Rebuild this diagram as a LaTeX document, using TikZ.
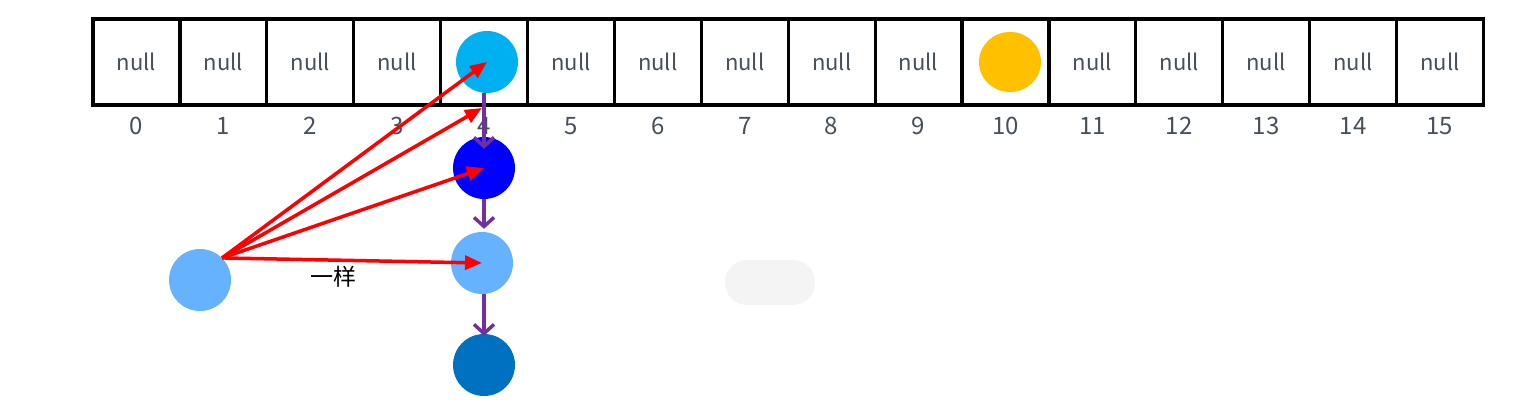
\documentclass[tikz,border=0pt]{standalone}
\usepackage{fontspec}
\setmainfont{Noto Sans CJK SC}
\usepackage{tikz}
\usetikzlibrary{arrows.meta, positioning, shapes.geometric}
\definecolor{bucketcyan}{RGB}{0,176,240}
\definecolor{bucketorange}{RGB}{255,192,0}
\definecolor{nodeblue}{RGB}{0,0,255}
\definecolor{nodelight}{RGB}{102,178,255}
\definecolor{nodedark}{RGB}{0,112,192}
\definecolor{linkpurple}{RGB}{112,48,160}
\definecolor{pillgray}{RGB}{244,244,244}
\definecolor{labelgray}{RGB}{70,80,90}
\tikzset{
  cell/.style={draw=black, line width=3.2pt, minimum width=86.9pt,
               minimum height=86pt, inner sep=0pt, font=\fontsize{22}{24}\selectfont, text=labelgray},
  idx/.style={font=\fontsize{24}{26}\selectfont, text=labelgray},
  entry/.style={circle, minimum size=62pt, inner sep=0pt, draw=none},
  link/.style={-{Straight Barb[length=9pt,width=20pt,line width=3.5pt]}, linkpurple, line width=3.5pt},
  hit/.style={-{Triangle[length=17pt,width=14pt]}, red, line width=3.5pt}
}
\begin{document}
\begin{tikzpicture}[x=1pt, y=-1pt]
  \useasboundingbox (0,0) rectangle (1537,403);
  % table of buckets
  \foreach \i in {0,...,15} {
    \ifnum\i=4 \def\cnt{}\else\ifnum\i=10 \def\cnt{}\else\def\cnt{null}\fi\fi
    \node[cell] (c\i) at ({93+86.9*(\i+0.5)}, 62) {\cnt};
    \node[idx] (i\i) at ({93+86.9*(\i+0.5)}, 126) {\i};
  }
  % entries in the buckets
  \node[entry, fill=bucketcyan] (head) at (487,62) {};
  \node[ellipse, fill=bucketorange, minimum width=62pt, minimum height=60pt, inner sep=0pt] (other) at (1010,62) {};
  % chain below bucket 4
  \node[entry, fill=nodeblue] (second) at (484,168) {};
  \node[entry, fill=nodelight] (third) at (482,263) {};
  \node[entry, fill=nodedark] (fourth) at (484,365) {};
  % new entry
  \node[entry, fill=nodelight] (newkey) at (200,280) {};
  \draw[link] (second.north |- head.south) -- ([yshift=-12pt]second.north);
  \draw[link] (second.south) -- ([yshift=3pt]second.south |- third.north);
  \draw[link] (fourth.north |- third.south) -- ([yshift=-2pt]fourth.north);
  % comparisons
  \coordinate (gap) at (482,108);
  \draw[hit] (newkey.north east) -- (head.center);
  \draw[hit] (newkey.north east) -- (gap);
  \draw[hit] (newkey.north east) -- (second.center);
  \draw[hit] (newkey.north east) -- (third.center);
  \node[font=\fontsize{23}{24}\selectfont, text=black] (same) at (333,277) {一样};
  % zoom pill
  \fill[pillgray, rounded corners=22pt] (725,260) rectangle (815,305);
\end{tikzpicture}
\end{document}
